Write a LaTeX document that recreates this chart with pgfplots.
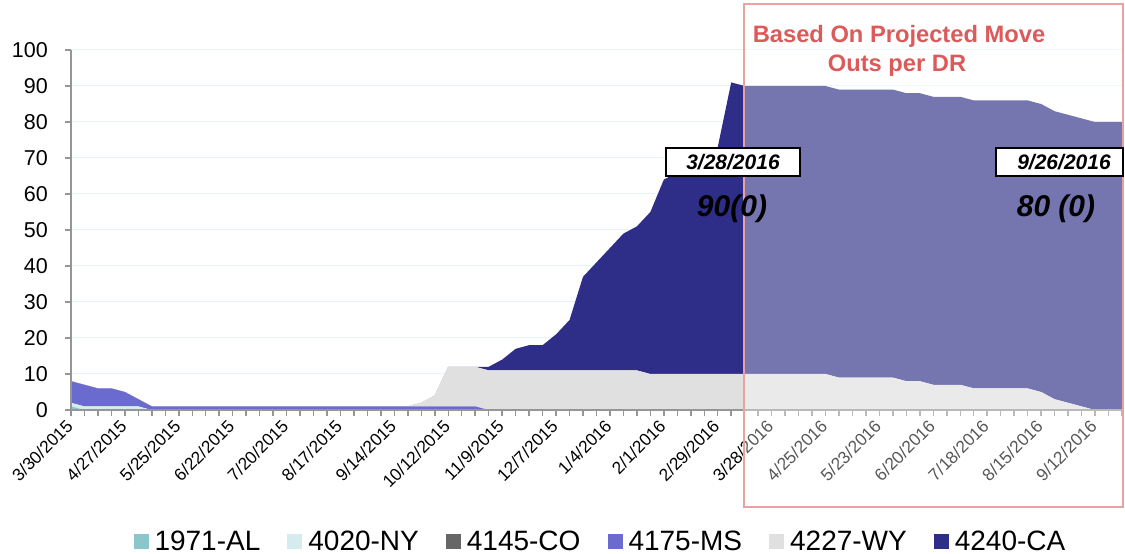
\documentclass[border=0pt]{standalone}
\usepackage{fontspec}
\setmainfont{Liberation Sans}
\usepackage{pgfplots}
\pgfplotsset{compat=1.18}
\usepackage{pgfplotstable}

\definecolor{cAL}{RGB}{139,198,204}
\definecolor{cNY}{RGB}{212,236,238}
\definecolor{cCO}{RGB}{102,102,102}
\definecolor{cMS}{RGB}{107,107,207}
\definecolor{cWY}{RGB}{224,224,224}
\definecolor{cCA}{RGB}{46,46,136}
\definecolor{axgray}{RGB}{150,150,150}
\definecolor{gridc}{RGB}{228,246,246}
\definecolor{redbox}{RGB}{236,160,160}
\definecolor{redtxt}{RGB}{220,90,90}

\pgfplotstableread{
w AL NY CO MS WY CA
0 1 1 0 6 0 0
1 0 1 0 6 0 0
2 0 1 0 5 0 0
3 0 1 0 5 0 0
4 0 1 0 4 0 0
5 0 1 0 2 0 0
6 0 0 0 1 0 0
7 0 0 0 1 0 0
8 0 0 0 1 0 0
9 0 0 0 1 0 0
10 0 0 0 1 0 0
11 0 0 0 1 0 0
12 0 0 0 1 0 0
13 0 0 0 1 0 0
14 0 0 0 1 0 0
15 0 0 0 1 0 0
16 0 0 0 1 0 0
17 0 0 0 1 0 0
18 0 0 0 1 0 0
19 0 0 0 1 0 0
20 0 0 0 1 0 0
21 0 0 0 1 0 0
22 0 0 0 1 0 0
23 0 0 0 1 0 0
24 0 0 0 1 0 0
25 0 0 0 1 0 0
26 0 0 0 1 1 0
27 0 0 0 1 3 0
28 0 0 0 1 11 0
29 0 0 0 1 11 0
30 0 0 0 1 11 0
31 0 0 0 0 11 1
32 0 0 0 0 11 3
33 0 0 0 0 11 6
34 0 0 0 0 11 7
35 0 0 0 0 11 7
36 0 0 0 0 11 10
37 0 0 0 0 11 14
38 0 0 0 0 11 26
39 0 0 0 0 11 30
40 0 0 0 0 11 34
41 0 0 0 0 11 38
42 0 0 0 0 11 40
43 0 0 0 0 10 45
44 0 0 0 0 10 54
45 0 0 0 0 10 56
46 0 0 0 0 10 58
47 0 0 0 0 10 60
48 0 0 0 0 10 63
49 0 0 0 0 10 81
50 0 0 0 0 10 80
51 0 0 0 0 10 80
52 0 0 0 0 10 80
53 0 0 0 0 10 80
54 0 0 0 0 10 80
55 0 0 0 0 10 80
56 0 0 0 0 10 80
57 0 0 0 0 9 80
58 0 0 0 0 9 80
59 0 0 0 0 9 80
60 0 0 0 0 9 80
61 0 0 0 0 9 80
62 0 0 0 0 8 80
63 0 0 0 0 8 80
64 0 0 0 0 7 80
65 0 0 0 0 7 80
66 0 0 0 0 7 80
67 0 0 0 0 6 80
68 0 0 0 0 6 80
69 0 0 0 0 6 80
70 0 0 0 0 6 80
71 0 0 0 0 6 80
72 0 0 0 0 5 80
73 0 0 0 0 3 80
74 0 0 0 0 2 80
75 0 0 0 0 1 80
76 0 0 0 0 0 80
77 0 0 0 0 0 80
78 0 0 0 0 0 80
}\data

\begin{document}
\begin{tikzpicture}
\begin{axis}[
  at={(71pt,144pt)}, anchor=south west,
  width=1051pt, height=360pt, scale only axis,
  xmin=0, xmax=78, ymin=0, ymax=100,
  stack plots=y,
  axis x line*=bottom, axis y line*=left,
  axis line style={-, draw=axgray, line width=2pt},
  xtick={0,4,...,76},
  minor xtick={0,1,...,78},
  xticklabels={3/30/2015,4/27/2015,5/25/2015,6/22/2015,7/20/2015,8/17/2015,9/14/2015,10/12/2015,11/9/2015,12/7/2015,1/4/2016,2/1/2016,2/29/2016,3/28/2016,4/25/2016,5/23/2016,6/20/2016,7/18/2016,8/15/2016,9/12/2016},
  ytick={0,10,...,100},
  tick align=outside,
  major tick length=6pt, minor tick length=6pt,
  tick style={draw=axgray, line width=1.5pt},
  ymajorgrids,
  grid style={draw=gridc, line width=1pt},
  /pgf/number format/assume math mode=true,
  xticklabel style={font=\fontsize{17.3}{20}\selectfont, rotate=45, anchor=east, inner sep=0pt, xshift=-6pt, yshift=-4pt},
  yticklabel style={font=\fontsize{21.5}{24}\selectfont, anchor=east, inner sep=0pt, xshift=-17pt},
  legend image code/.code={\fill[#1] (0pt,-7.5pt) rectangle (15pt,7.5pt);},
  legend columns=6,
  legend style={draw=none, fill=none, font=\fontsize{28}{30}\selectfont,
    at={(axis description cs:0.5033,-0.3639)}, anchor=center,
    /tikz/every odd column/.append style={column sep=5pt},
    /tikz/every even column/.append style={column sep=26pt},
    nodes={inner sep=1pt}},
]
\addplot[fill=cAL, draw=none] table[x=w,y=AL]{\data} \closedcycle;
\addplot[fill=cNY, draw=none] table[x=w,y=NY]{\data} \closedcycle;
\addplot[fill=cCO, draw=none] table[x=w,y=CO]{\data} \closedcycle;
\addplot[fill=cMS, draw=none] table[x=w,y=MS]{\data} \closedcycle;
\addplot[fill=cWY, draw=none] table[x=w,y=WY]{\data} \closedcycle;
\addplot[fill=cCA, draw=none] table[x=w,y=CA]{\data} \closedcycle;
\legend{1971-AL,4020-NY,4145-CO,4175-MS,4227-WY,4240-CA}
\end{axis}
% axis lines over the areas
\draw[axgray, line width=2pt] (70pt,144pt) -- (1122pt,144pt);
\draw[axgray, line width=2pt] (71pt,144pt) -- (71pt,504pt);
% projection overlay
\fill[white, fill opacity=0.34] (744pt,47pt) rectangle (1123pt,550pt);
\draw[redbox, line width=2pt] (744pt,47pt) rectangle (1123pt,550pt);
\node[anchor=base, font=\bfseries\fontsize{23.7}{28}\selectfont, text=redtxt] at (899pt,511.7pt) {Based On Projected Move};
\node[anchor=base, font=\bfseries\fontsize{23.7}{28}\selectfont, text=redtxt] at (897pt,482.3pt) {Outs per DR};
% date boxes
\filldraw[fill=white, draw=black, line width=1.5pt] (666pt,378pt) rectangle (800pt,406pt);
\node[font=\bfseries\itshape\fontsize{21}{24}\selectfont] at (733pt,392pt) {3/28/2016};
\filldraw[fill=white, draw=black, line width=1.5pt] (996pt,378pt) rectangle (1123pt,406pt);
\node[font=\bfseries\itshape\fontsize{21}{24}\selectfont] at (1064pt,392pt) {9/26/2016};
\node[anchor=base, font=\bfseries\itshape\fontsize{30}{34}\selectfont] at (732pt,337.5pt) {90(0)};
\node[anchor=base, font=\bfseries\itshape\fontsize{30}{34}\selectfont] at (1056pt,337pt) {80 (0)};
\pgfresetboundingbox
\useasboundingbox (0pt,0pt) rectangle (1125pt,554pt);
\end{tikzpicture}
\end{document}
